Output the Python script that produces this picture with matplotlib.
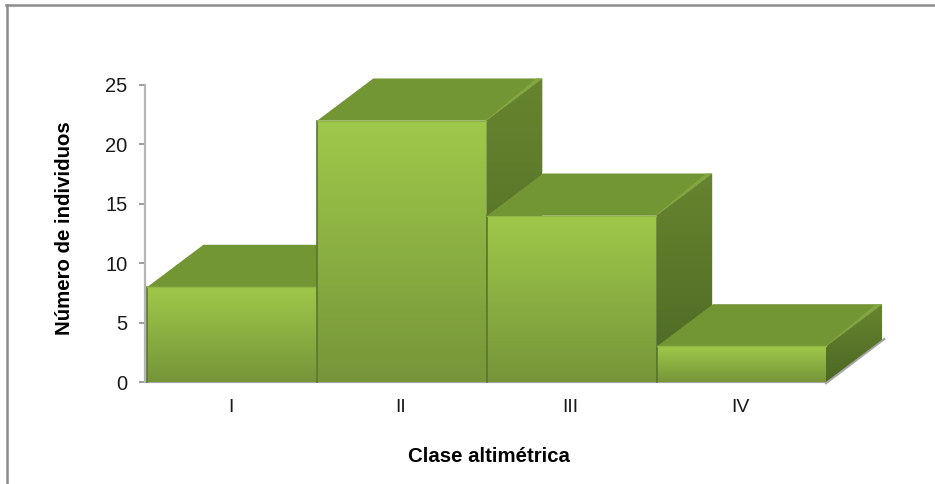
"""
Número de individuos por clase altimétrica, columnas con efecto 3D
"""
import numpy as np
import matplotlib.pyplot as plt
from matplotlib.colors import LinearSegmentedColormap
from matplotlib.patches import Polygon

clases = ['I', 'II', 'III', 'IV']
individuos = [8, 22, 14, 3]
y_ticks = [0, 5, 10, 15, 20, 25]

W, H = 935, 484
plt.rcParams['font.family'] = ['Liberation Sans', 'DejaVu Sans']

# profundidad del efecto 3D en unidades de datos
DX = 0.33
DY = 3.55

front_cmap = LinearSegmentedColormap.from_list('front', ['#9fc94a', '#769539'])
side_cmap = LinearSegmentedColormap.from_list('side', ['#67852f', '#4c6824'])
TOP_COLOR = '#739635'
EDGE_COLOR = '#83a83d'


def gradient(ax, poly, cmap, extent):
    # degradado vertical recortado a la cara de la columna
    grad = np.linspace(0, 1, 256).reshape(-1, 1)
    im = ax.imshow(grad, cmap=cmap, extent=extent, origin='upper', aspect='auto', zorder=3)
    patch = Polygon(poly, closed=True, transform=ax.transData, facecolor='none', edgecolor='none')
    ax.add_patch(patch)
    im.set_clip_path(patch)
    im.set_clip_box(fig.bbox)


def draw_bar(ax, x0, x1, v):
    # cara superior con el bisel claro en la diagonal derecha
    top = [(x0, v), (x0 + DX, v + DY), (x1 + DX, v + DY), (x1, v)]
    ax.add_patch(Polygon(top, closed=True, facecolor=TOP_COLOR, edgecolor='none',
                         zorder=3, clip_on=False))
    bevel = [(x1 - 0.005, v), (x1 + DX - 0.035, v + DY), (x1 + DX, v + DY), (x1, v)]
    ax.add_patch(Polygon(bevel, closed=True, facecolor=EDGE_COLOR, edgecolor='none',
                         zorder=3, clip_on=False))
    # cara lateral
    side = [(x1, 0), (x1 + DX, DY), (x1 + DX, v + DY), (x1, v)]
    gradient(ax, side, side_cmap, (x1, x1 + DX, 0, v + DY))
    # cara frontal
    front = [(x0, 0), (x1, 0), (x1, v), (x0, v)]
    gradient(ax, front, front_cmap, (x0, x1, 0, v))
    ax.plot([x0, x0], [0, v], color='#5a7729', lw=1.2, zorder=3, clip_on=False)
    ax.plot([x0, x1], [v, v], color='#8fb544', lw=1.0, zorder=3, clip_on=False)


fig = plt.figure(figsize=(W / 100, H / 100), dpi=100)
fig.patch.set_facecolor('white')

# marco exterior
for xs, ys in [((7.3, 7.3), (5, 484)), ((6, 935), (5.2, 5.2))]:
    fig.add_artist(plt.Line2D([x / W for x in xs], [1 - y / H for y in ys], color='#8c8c8c', lw=1.8))

ax = fig.add_axes([146.5 / W, 1 - 382 / H, (826 - 146.5) / W, (382 - 85) / H])
ax.set_xlim(0, 4)
ax.set_ylim(0, 25)
ax.patch.set_alpha(0)

# suelo del gráfico
ax.plot([4, 4 + DX * 1.04], [-0.1, DY * 1.02], color='#a6a6a6', lw=1.6, zorder=2, clip_on=False)

for i, v in enumerate(individuos):
    draw_bar(ax, i + 0.005, i + 1, v)

ax.set_xlim(0, 4)
ax.set_ylim(0, 25)

for s in ['top', 'right']:
    ax.spines[s].set_visible(False)
ax.spines['left'].set_color('#b5b5b5')
ax.spines['left'].set_linewidth(1.6)
ax.spines['left'].set_position(('outward', 1))
ax.spines['bottom'].set_color('#a6a6a6')
ax.spines['bottom'].set_linewidth(1.6)
ax.spines['bottom'].set_zorder(2)

ax.set_yticks(y_ticks)
ax.tick_params(axis='y', length=4.5, width=1.2, color='#8c8c8c', labelsize=14.5, pad=8, labelcolor='#1a1a1a')
ax.set_xticks(np.arange(len(clases)) + 0.5 - 0.005, clases)
ax.tick_params(axis='x', length=0, labelsize=14, pad=12, labelcolor='#1a1a1a')

fig.text(65 / W, 1 - 228 / H, 'Número de individuos', rotation=90, ha='center', va='center',
         fontsize=14.7, fontweight='bold', color='black')
fig.text(489 / W, 1 - 457 / H, 'Clase altimétrica', ha='center', va='center',
         fontsize=14.7, fontweight='bold', color='black')

fig.savefig('out.png', dpi=100)
